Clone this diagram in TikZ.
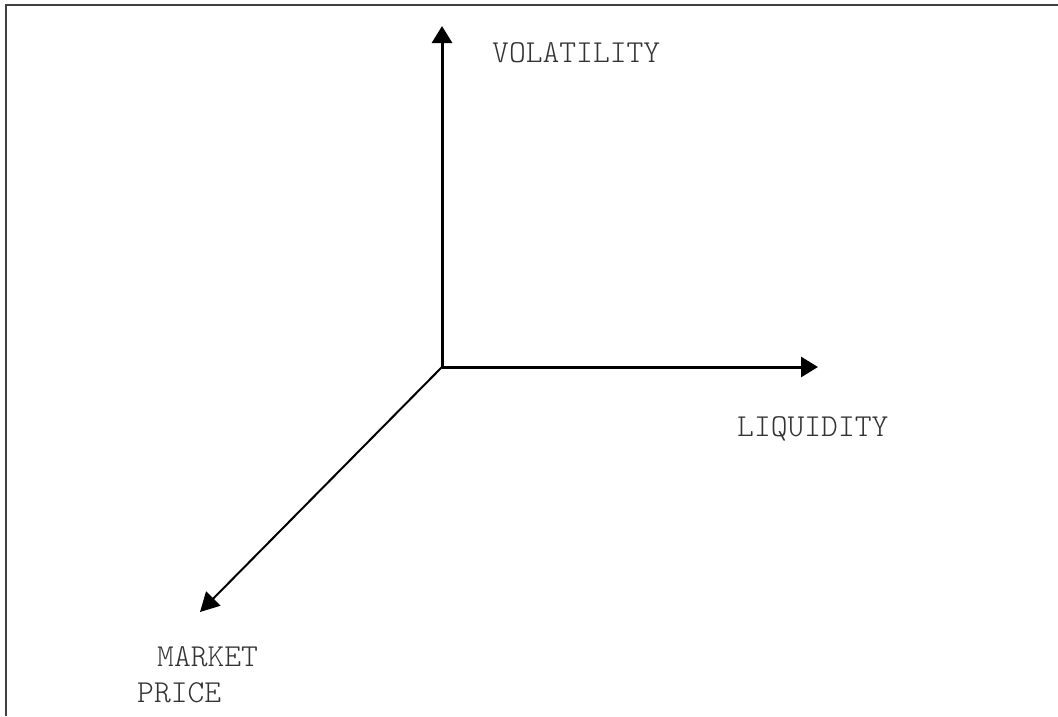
\documentclass[tikz,border=0pt]{standalone}
\usepackage{fontspec}
\newfontfamily\axisfont{Latin Modern Mono Light}
\usetikzlibrary{arrows.meta}
\tikzset{
  frameline/.style={draw=black!75, line width=2pt},
  axis/.style={draw=black, line width=3pt, -{Triangle[length=17pt,width=20pt]}},
  diagaxis/.style={draw=black, line width=2pt, -{Triangle[length=19pt,width=20pt]}},
  axlabel/.style={inner sep=0pt, anchor=base west, text=black!80, font=\axisfont\fontsize{32}{32}\selectfont}
}
\begin{document}
\begin{tikzpicture}[x=1pt,y=-1pt]
\useasboundingbox (0,0) rectangle (1058,716);
\draw[frameline] (6,716) -- (6,5) -- (1058,5);
\coordinate (O) at (442,367);
\coordinate (V) at (442,26);
\coordinate (L) at (818,367);
\coordinate (M) at (200,612);
\draw[axis] (O) -- (V);
\draw[axis] (O) -- (L);
\draw[diagaxis] (O) -- (M);
\node[axlabel] (vol) at (492,62) {VOLATILITY};
\node[axlabel] (liq) at (737,436) {LIQUIDITY};
\node[axlabel] (mkt) at (157,666) {MARKET};
\node[axlabel] (prc) at (137,702) {PRICE};
\end{tikzpicture}
\end{document}
